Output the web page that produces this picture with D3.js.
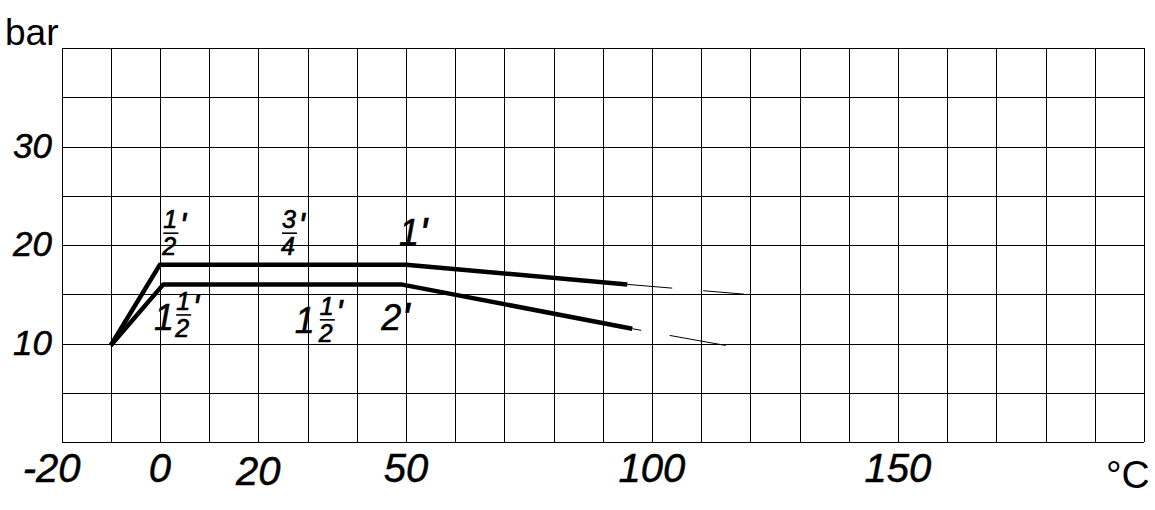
<!DOCTYPE html>
<html>
<head>
<meta charset="utf-8">
<script src="https://cdn.jsdelivr.net/npm/d3@7"></script>
<style>
  body { margin: 0; background: #fff; }
  text { font-family: "Liberation Sans", Arial, sans-serif; fill: #000; }
  .num { font-style: italic; stroke: #000; stroke-width: 0.5; }
  .frac { stroke-width: 0.7; }
</style>
</head>
<body>
<div id="chart"></div>
<script>
// pressure (bar) over temperature (°C) for two pipe sizes
const tempUpper = [-10, 0, 50, 95];
const pressUpper = [9.8, 18, 18, 16];
const tempUpperExt = [95, 119];
const pressUpperExt = [16, 15];

const tempLower = [-10, 0.7, 49, 96];
const pressLower = [9.8, 16, 16, 11.5];
const tempLowerExt = [96, 115];
const pressLowerExt = [11.5, 9.8];

const xTickLabels = ["-20", "0", "20", "50", "100", "150"];
const xTickAt = [-22, 0, 20, 50, 100, 150];
const yTickLabels = ["10", "20", "30"];
const yTickAt = [10, 20, 30];

const width = 1155;
const height = 510;

const svg = d3.select("#chart")
    .append("svg")
    .attr("width", width)
    .attr("height", height);

const x = d3.scaleLinear().domain([-20, 200]).range([61.5, 1144]);
const y = d3.scaleLinear().domain([0, 40]).range([442, 48]);

// grid
const grid = svg.append("g")
    .attr("stroke", "#000")
    .attr("stroke-width", 1)
    .attr("shape-rendering", "crispEdges");

grid.selectAll(".v")
    .data(d3.range(-20, 201, 10))
    .enter()
    .append("line")
    .attr("x1", d => Math.round(x(d)) + 0.5)
    .attr("x2", d => Math.round(x(d)) + 0.5)
    .attr("y1", y(0))
    .attr("y2", y(40));

grid.selectAll(".h")
    .data(d3.range(0, 41, 5))
    .enter()
    .append("line")
    .attr("x1", x(-20))
    .attr("x2", x(200))
    .attr("y1", d => Math.round(y(d)) + 0.5)
    .attr("y2", d => Math.round(y(d)) + 0.5);

// white knock-outs behind the size labels
const knock = [
  [0.3, 6, 21.4, 24],
  [24.4, 31.6, 21.1, 18.6],
  [47, 52.7, 20.4, 16.5],
  [0.3, 9.6, 15.6, 10.4],
  [27.5, 38.3, 14.8, 10.2]
];
svg.append("g").selectAll("rect")
    .data(knock)
    .enter()
    .append("rect")
    .attr("x", d => x(d[0]))
    .attr("width", d => x(d[1]) - x(d[0]))
    .attr("y", d => y(d[3]))
    .attr("height", d => y(d[2]) - y(d[3]))
    .attr("fill", "#fff");

// curves
const line = d3.line()
    .x(d => x(d[0]))
    .y(d => y(d[1]));

const zip = (a, b) => a.map((v, i) => [v, b[i]]);

svg.append("path")
    .datum(zip(tempUpper, pressUpper))
    .attr("d", line)
    .attr("fill", "none")
    .attr("stroke", "#000")
    .attr("stroke-width", 4.5)
    .attr("stroke-linejoin", "round");

svg.append("path")
    .datum(zip(tempLower, pressLower))
    .attr("d", line)
    .attr("fill", "none")
    .attr("stroke", "#000")
    .attr("stroke-width", 4.5)
    .attr("stroke-linejoin", "round");

svg.append("path")
    .datum(zip(tempUpperExt, pressUpperExt))
    .attr("d", line)
    .attr("fill", "none")
    .attr("stroke", "#000")
    .attr("stroke-width", 1)
    .attr("stroke-dasharray", "45,31,41");

svg.append("path")
    .datum(zip(tempLowerExt, pressLowerExt))
    .attr("d", line)
    .attr("fill", "none")
    .attr("stroke", "#000")
    .attr("stroke-width", 1)
    .attr("stroke-dasharray", "9,29,60");

// axis labels
svg.append("text")
    .attr("x", 5)
    .attr("y", 45)
    .attr("font-size", 37)
    .text("bar");

svg.append("text")
    .attr("x", 1106)
    .attr("y", 488)
    .attr("font-size", 39)
    .text("°C");

svg.selectAll(".xl")
    .data(xTickLabels)
    .enter()
    .append("text")
    .attr("class", "num")
    .attr("text-anchor", "middle")
    .attr("font-size", 40)
    .attr("x", (d, i) => x(xTickAt[i]))
    .attr("y", (d, i) => d === "20" ? 485 : 482)
    .text(d => d);

svg.selectAll(".yl")
    .data(yTickLabels)
    .enter()
    .append("text")
    .attr("class", "num")
    .attr("text-anchor", "end")
    .attr("font-size", 35)
    .attr("x", 52)
    .attr("y", (d, i) => y(yTickAt[i]) + 11)
    .text(d => d);

// size labels: fractions drawn as stacked text
const labels = svg.append("g");

function fraction(px, py, num, den, prime) {
  labels.append("text").attr("class", "num frac").attr("font-size", 25)
      .attr("x", px).attr("y", py - 5).text(num);
  labels.append("line").attr("x1", px).attr("x2", px + 15)
      .attr("y1", py).attr("y2", py)
      .attr("stroke", "#000").attr("stroke-width", 1.6);
  labels.append("text").attr("class", "num frac").attr("font-size", 25)
      .attr("x", px - 1).attr("y", py + 22).text(den);
  if (prime) {
    labels.append("text").attr("class", "num").attr("font-size", 36)
        .attr("x", px + 16).attr("y", py + 6).text("'");
  }
}

function whole(px, py, txt) {
  labels.append("text").attr("class", "num").attr("font-size", 36)
      .attr("x", px).attr("y", py).text(txt)
      .append("tspan").attr("font-size", 44).attr("dy", 4).text("'");
}

fraction(x(0.7), y(21.2), "1", "2", true);
fraction(x(24.8), y(21.2), "3", "4", true);
whole(x(48.6), y(20), "1");
whole(x(45), y(11.4), "2");

// mixed numbers 1 1/2'
labels.append("text").attr("class", "num").attr("font-size", 36)
    .attr("x", x(-1.2)).attr("y", y(11.4)).text("1");
fraction(x(3.3), y(12.9), "1", "2", true);

labels.append("text").attr("class", "num").attr("font-size", 36)
    .attr("x", x(27.4)).attr("y", y(11.1)).text("1");
fraction(x(32.5), y(12.4), "1", "2", true);
</script>
</body>
</html>
